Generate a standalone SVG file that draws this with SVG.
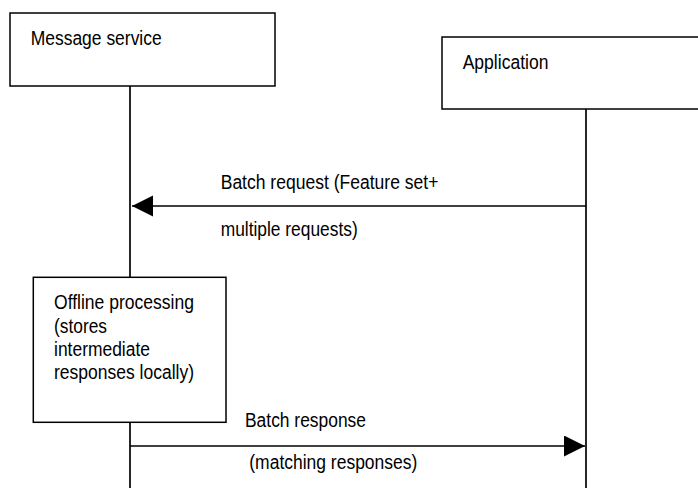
<svg xmlns="http://www.w3.org/2000/svg" width="698" height="488" viewBox="0 0 698 488">
<style>
.box{fill:#fff;stroke:#000;stroke-width:1.5}
.life{stroke:#000;stroke-width:1.7;fill:none}
.msg{stroke:#000;stroke-width:1.7;fill:none}
text{font-family:"Liberation Sans",Arial,sans-serif;font-size:19.5px;fill:#000}
</style>
<defs>
<marker id="ah" markerUnits="userSpaceOnUse" markerWidth="22" markerHeight="22" refX="21" refY="10.5" orient="auto">
<path d="M0,0 L21,10.5 L0,21 Z" fill="#000"/>
</marker>
</defs>
<rect width="698" height="488" fill="#fff"/>
<g id="connectors">
<line class="life" x1="130" y1="86" x2="130" y2="277"/>
<line class="life" x1="130" y1="422" x2="130" y2="488"/>
<line class="life" x1="586" y1="109" x2="586" y2="488"/>
<line class="msg" x1="586" y1="206" x2="132" y2="206" marker-end="url(#ah)"/>
<text x="220.7" y="189" textLength="217.7" lengthAdjust="spacingAndGlyphs">Batch request (Feature set+</text>
<text x="220.7" y="236" textLength="137" lengthAdjust="spacingAndGlyphs">multiple requests)</text>
<line class="msg" x1="130" y1="446" x2="585" y2="446" marker-end="url(#ah)"/>
<text x="245" y="426.5" textLength="121" lengthAdjust="spacingAndGlyphs">Batch response</text>
<text x="249.3" y="469.3" textLength="168" lengthAdjust="spacingAndGlyphs">(matching responses)</text>
</g>
<g id="message-service">
<rect class="box" x="10" y="13" width="265" height="73"/>
<text x="30.7" y="45" textLength="131" lengthAdjust="spacingAndGlyphs">Message service</text>
</g>
<g id="application">
<rect class="box" x="442" y="37" width="270" height="72"/>
<text x="462.7" y="68.5" textLength="85.7" lengthAdjust="spacingAndGlyphs">Application</text>
</g>
<g id="offline-processing">
<rect class="box" x="33.3" y="277.3" width="192.7" height="145"/>
<text x="54" y="309.3" textLength="140" lengthAdjust="spacingAndGlyphs">Offline processing</text>
<text x="54" y="332.7" textLength="53" lengthAdjust="spacingAndGlyphs">(stores</text>
<text x="54" y="356" textLength="96" lengthAdjust="spacingAndGlyphs">intermediate</text>
<text x="54" y="379.3" textLength="140" lengthAdjust="spacingAndGlyphs">responses locally)</text>
</g>
</svg>
